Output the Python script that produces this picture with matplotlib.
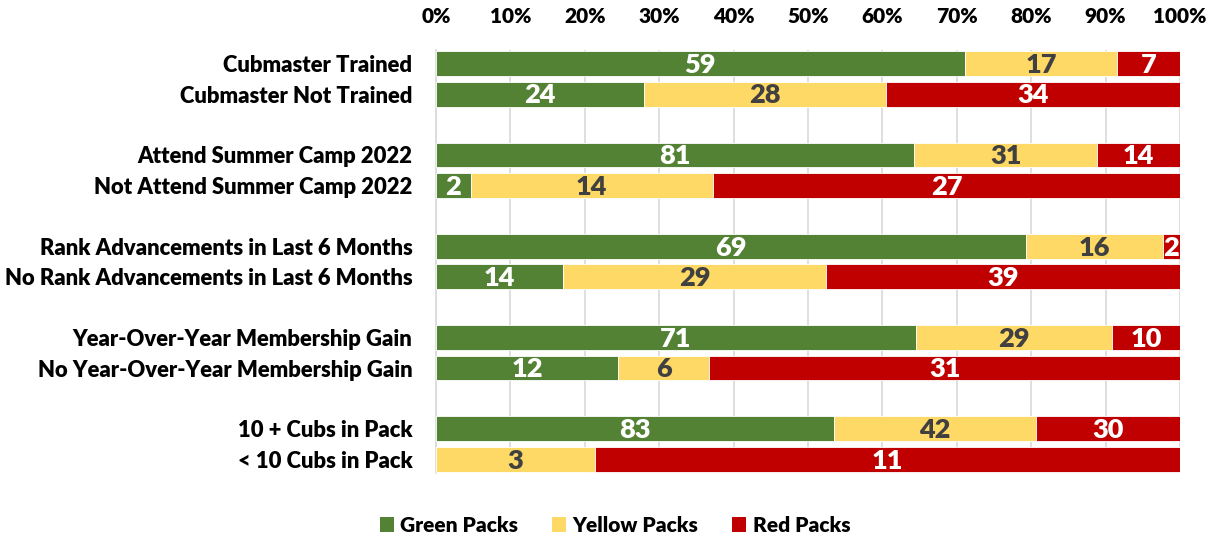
import matplotlib
matplotlib.use("Agg")
import matplotlib.pyplot as plt
from matplotlib.patches import Patch
import numpy as np

plt.rcParams['font.family'] = ['Lato', 'DejaVu Sans']
plt.rcParams['font.weight'] = 'heavy'

categories = [
    "Cubmaster Trained", "Cubmaster Not Trained",
    "Attend Summer Camp 2022", "Not Attend Summer Camp 2022",
    "Rank Advancements in Last 6 Months", "No Rank Advancements in Last 6 Months",
    "Year-Over-Year Membership Gain", "No Year-Over-Year Membership Gain",
    "10 + Cubs in Pack", "< 10 Cubs in Pack",
]
green_packs = [59, 24, 81, 2, 69, 14, 71, 12, 83, 0]
yellow_packs = [17, 28, 31, 14, 16, 29, 29, 6, 42, 3]
red_packs = [7, 34, 14, 27, 2, 39, 10, 31, 30, 11]

series_names = ["Green Packs", "Yellow Packs", "Red Packs"]
series_colors = ["#548235", "#FFD966", "#C00000"]
label_colors = ["white", "#404040", "white"]

# rows come in pairs, with an empty slot between groups
positions = []
for i in range(len(categories)):
    positions.append(i + i // 2)
positions = np.array(positions)

counts = np.array([green_packs, yellow_packs, red_packs], dtype=float)
totals = counts.sum(axis=0)
shares = counts / totals * 100

fig = plt.figure(figsize=(12.15, 5.39), dpi=100)
ax = fig.add_axes([436 / 1215, 1 - 473 / 539, (1180 - 436) / 1215, (473 - 50) / 539])

left = np.zeros(len(categories))
for k in range(3):
    ax.barh(positions, shares[k], left=left, height=0.82, color=series_colors[k],
            edgecolor="white", linewidth=0.6, zorder=3)
    for p, l, w, c in zip(positions, left, shares[k], counts[k]):
        if c > 0:
            ax.text(l + w / 2, p + 0.04, f"{int(c)}", ha="center", va="center",
                    fontsize=19.5, color=label_colors[k], zorder=4)
    left += shares[k]

ax.set_xlim(0, 100)
ax.set_ylim(positions.max() + 0.45, -0.45)
ax.set_xticks(np.arange(0, 101, 10))
ax.set_xticklabels([f"{v}%" for v in range(0, 101, 10)])
ax.xaxis.tick_top()
ax.tick_params(axis="x", length=0, pad=17, labelsize=15)
ax.set_yticks(positions)
ax.set_yticklabels(categories)
ax.tick_params(axis="y", length=0, pad=17, labelsize=15.8)
ax.grid(axis="x", color="#d9d9d9", linewidth=1.2, zorder=0)
for s in ["top", "right", "bottom"]:
    ax.spines[s].set_visible(False)
ax.spines["left"].set_color("#d9d9d9")
ax.spines["left"].set_linewidth(1.2)

handles = [Patch(facecolor=c, edgecolor="none") for c in series_colors]
fig.legend(handles, series_names, loc="center", bbox_to_anchor=(615 / 1215, 1 - 525 / 539),
           ncol=3, frameon=False, fontsize=15, handlelength=0.7, handleheight=0.7,
           handletextpad=0.3, columnspacing=1.6)

fig.savefig("out.png", dpi=100)
